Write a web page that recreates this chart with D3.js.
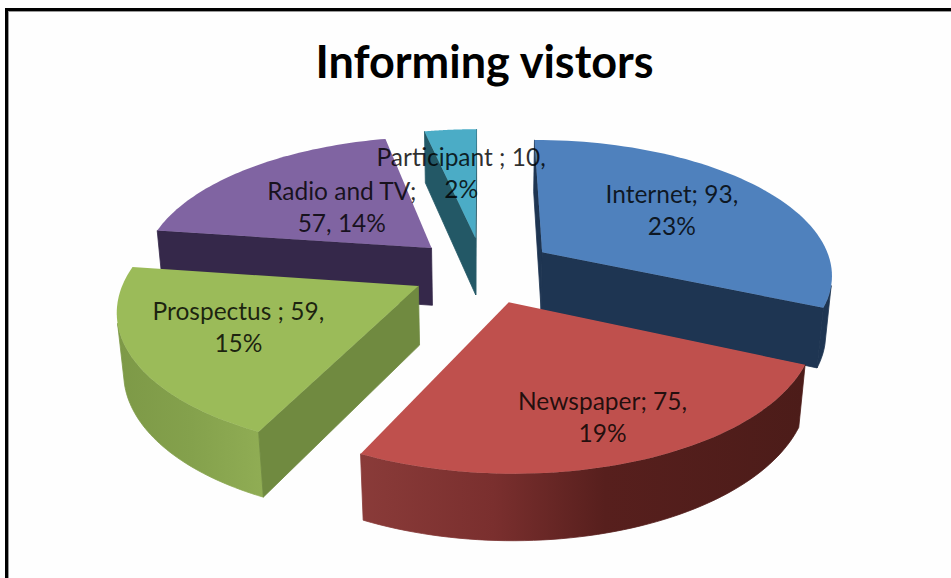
<!DOCTYPE html>
<html>
<head>
<meta charset="utf-8">
<script src="https://cdn.jsdelivr.net/npm/d3@7/dist/d3.min.js"></script>
<style>
  html, body { margin: 0; padding: 0; background: #fff; }
  svg { display: block; }
  text { font-family: Lato, "Open Sans", sans-serif; }
</style>
</head>
<body>
<svg id="chart" width="951" height="578"></svg>
<script>
// Visitor information sources, in clockwise order from twelve o'clock.
const categories = ["Internet", "Newspaper", "Prospectus ", "Radio and TV", "Participant "];
const visitors = [93, 75, 59, 57, 10];
const percents = [23, 19, 15, 14, 2];
const topColors = ["#4f81bd", "#bf504d", "#9bbb59", "#8064a2", "#4bacc6"];
const cutColors = ["#1e3552", "#5a1f1d", "#708a40", "#35284a", "#235866"];
const rimStops = [
  [[0, "#1e3552"], [1, "#1e3552"]],
  [[0, "#8a3b39"], [0.3, "#7a2f2e"], [0.55, "#571f1d"], [1, "#4c1c19"]],
  [[0, "#7d9947"], [0.5, "#84a14c"], [1, "#90ad54"]],
  [[0, "#35284a"], [1, "#35284a"]],
  [[0, "#235866"], [1, "#235866"]]
];
const labelReach = [0.58, 0.77, 0.645, 0.463, 0.54];
const paintOrder = [4, 3, 0, 2, 1];

const RADIUS = 291, EXPLODE = 72, THICKNESS = 67;
const CENTER_X = 483, CENTER_Y = 270, FOCAL = 1700;
const TILT = 27.5 * Math.PI / 180;

const svg = d3.select("#chart");
const defs = svg.append("defs");

// Perspective camera looking down at the pie; z is negative below the top face.
function project(x, y, z) {
  const viewY = y * Math.sin(TILT) + z * Math.cos(TILT);
  const depth = y * Math.cos(TILT) - z * Math.sin(TILT);
  const s = FOCAL / (FOCAL + depth);
  return [CENTER_X + x * s, CENTER_Y - viewY * s];
}

const radial = (angle, r) => [r * Math.sin(angle), r * Math.cos(angle)];
const outline = d3.line().curve(d3.curveLinear);

// A face is visible only when its corners wind the way the camera sees the front.
const facesCamera = poly => d3.polygonArea(poly) > 0;

svg.append("rect").attr("width", 951).attr("height", 578).attr("fill", "#fefefe");

const arcs = d3.pie().sort(null).value(d => d)(visitors);

function sliceParts(arc) {
  const mid = (arc.startAngle + arc.endAngle) / 2;
  const [ox, oy] = radial(mid, EXPLODE);
  const at = (angle, r, z) => {
    const [x, y] = radial(angle, r);
    return project(ox + x, oy + y, z);
  };
  const sweep = d3.range(0, 61).map(i => arc.startAngle + (arc.endAngle - arc.startAngle) * i / 60);
  const topRim = sweep.map(a => at(a, RADIUS, 0));
  // Keep only the run of the outer wall that turns towards the camera.
  const shown = sweep.filter((a, i) => {
    const next = sweep[Math.min(i + 1, 60)], prev = sweep[Math.max(i - 1, 0)];
    const quad = [at(prev, RADIUS, 0), at(next, RADIUS, 0), at(next, RADIUS, -THICKNESS), at(prev, RADIUS, -THICKNESS)];
    return facesCamera(quad);
  });
  const rim = shown.length
    ? [...shown.map(a => at(a, RADIUS, 0)), ...shown.map(a => at(a, RADIUS, -THICKNESS)).reverse()]
    : [];
  const apex = at(0, 0, 0), apexLow = at(0, 0, -THICKNESS);
  return {
    top: [apex, ...topRim],
    rim,
    cuts: [
      [apex, at(arc.startAngle, RADIUS, 0), at(arc.startAngle, RADIUS, -THICKNESS), apexLow],
      [at(arc.endAngle, RADIUS, 0), apex, apexLow, at(arc.endAngle, RADIUS, -THICKNESS)]
    ],
    at, mid
  };
}

paintOrder.forEach(i => {
  const parts = sliceParts(arcs[i]);
  const group = svg.append("g").attr("class", "slice");

  if (parts.rim.length) {
    const xs = parts.rim.map(p => p[0]);
    const grad = defs.append("linearGradient")
      .attr("id", "rim" + i)
      .attr("gradientUnits", "userSpaceOnUse")
      .attr("x1", d3.min(xs)).attr("x2", d3.max(xs)).attr("y1", 0).attr("y2", 0);
    rimStops[i].forEach(([offset, color]) => {
      grad.append("stop").attr("offset", offset).attr("stop-color", color);
    });
    group.append("path").attr("d", outline(parts.rim) + "Z")
      .attr("fill", `url(#rim${i})`)
      .attr("stroke", `url(#rim${i})`).attr("stroke-width", 0.8);
  }
  parts.cuts.filter(facesCamera).forEach(poly => {
    group.append("path").attr("d", outline(poly) + "Z")
      .attr("fill", cutColors[i])
      .attr("stroke", cutColors[i]).attr("stroke-width", 0.8);
  });
  group.append("path").attr("d", outline(parts.top) + "Z").attr("fill", topColors[i]);
});

// Data labels sit on each slice's bisector.
const labelLines = i => categories[i] === "Radio and TV"
  ? [`${categories[i]};`, `${visitors[i]}, ${percents[i]}%`]
  : [`${categories[i]}; ${visitors[i]},`, `${percents[i]}%`];

const labels = svg.append("g").attr("class", "labels");
arcs.forEach((arc, i) => {
  const parts = sliceParts(arc);
  const [x, y] = parts.at(parts.mid, labelReach[i] * RADIUS, 0);
  const text = labels.append("text")
    .attr("text-anchor", "middle")
    .attr("font-size", 24.5)
    .attr("fill", "#000")
    .attr("fill-opacity", 0.82);
  labelLines(i).forEach((line, k) => {
    text.append("tspan").attr("x", x).attr("y", y - 10 + k * 32).text(line);
  });
});

svg.append("text")
  .attr("x", 484.5).attr("y", 78)
  .attr("text-anchor", "middle")
  .attr("font-size", 45)
  .attr("font-weight", 700)
  .attr("fill", "#000")
  .text("Informing vistors");

// Frame along the top and left edges only.
svg.append("rect").attr("x", 5).attr("y", 8).attr("width", 946).attr("height", 3).attr("fill", "#000");
svg.append("rect").attr("x", 5).attr("y", 8).attr("width", 3).attr("height", 570).attr("fill", "#000");
svg.append("rect").attr("x", 8).attr("y", 11).attr("width", 943).attr("height", 1).attr("fill", "#999");
svg.append("rect").attr("x", 8).attr("y", 11).attr("width", 1).attr("height", 567).attr("fill", "#999");
</script>
</body>
</html>
